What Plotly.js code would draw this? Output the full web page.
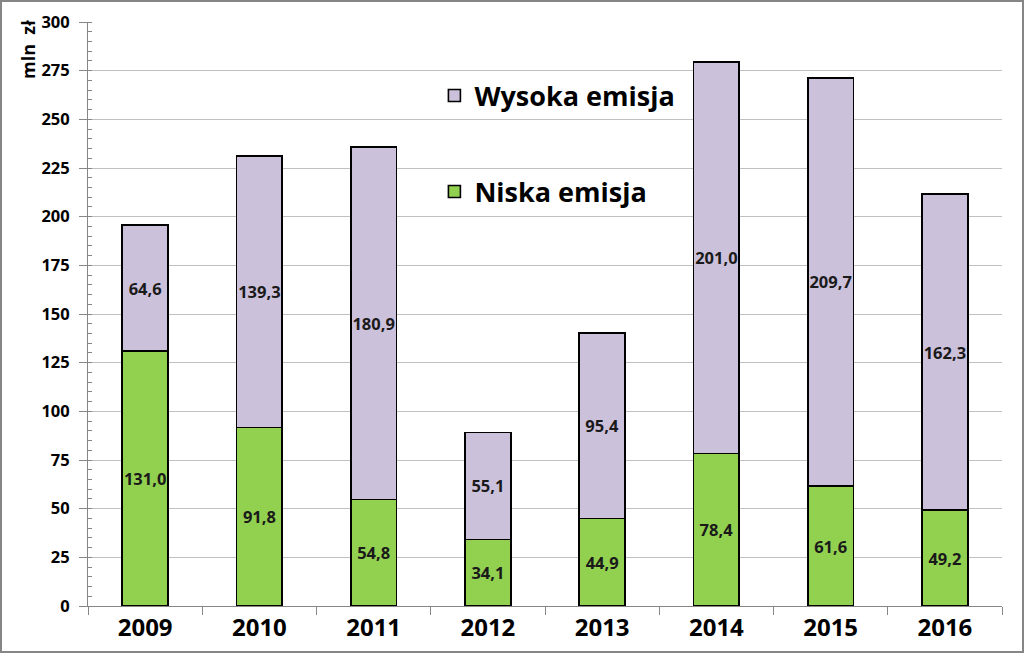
<!DOCTYPE html>
<html><head><meta charset="utf-8">
<script src="https://cdn.plot.ly/plotly-3.0.1.min.js"></script>
<style>html,body{margin:0;padding:0;background:#fff}#chart{width:1024px;height:653px}</style>
</head><body><div id="chart"></div>
<script>
const years = ['2009','2010','2011','2012','2013','2014','2015','2016'];
const niska = [131.0, 91.8, 54.8, 34.1, 44.9, 78.4, 61.6, 49.2];
const wysoka = [64.6, 139.3, 180.9, 55.1, 95.4, 201.0, 209.7, 162.3];
const fmt = v => v.toFixed(1).replace('.', ',');

const M = {l: 88, r: 22, t: 22, b: 47};
const W = 1024, H = 653;
const pw = W - M.l - M.r, ph = H - M.t - M.b;
const FONT = 'Open Sans, Lato, sans-serif';

const common = {
  type: 'bar', x: years, width: 0.4,
  textposition: 'inside', insidetextanchor: 'middle', textangle: 0,
  constraintext: 'none',
  textfont: {family: FONT, size: 16.5, color: '#1a1a1a', weight: 700},
  hoverinfo: 'skip'
};

const data = [
  Object.assign({}, common, {name: 'Niska emisja', y: niska, text: niska.map(fmt),
    legend: 'legend2', marker: {color: '#92d050', line: {color: '#000', width: 1.6}}}),
  Object.assign({}, common, {name: 'Wysoka emisja', y: wysoka, text: wysoka.map(fmt),
    legend: 'legend', marker: {color: '#ccc1da', line: {color: '#000', width: 1.6}}})
];

const legFont = {family: FONT, size: 27, color: '#000', weight: 700};
const lx = 0.379;

const layout = {
  width: W, height: H, margin: M, barmode: 'stack',
  paper_bgcolor: '#fff', plot_bgcolor: '#fff',
  font: {family: FONT, color: '#000'},
  showlegend: true,
  legend: {x: lx, y: (606 - 96) / ph, xanchor: 'left', yanchor: 'middle',
    bgcolor: 'rgba(0,0,0,0)', font: legFont},
  legend2: {x: lx, y: (606 - 192) / ph, xanchor: 'left', yanchor: 'middle',
    bgcolor: 'rgba(0,0,0,0)', font: legFont},
  xaxis: {type: 'category', showline: true, linecolor: '#868686', linewidth: 1,
    ticks: 'outside', tickson: 'boundaries', ticklen: 8, tickcolor: '#868686',
    tickfont: {family: FONT, size: 24, color: '#000', weight: 700},
    showgrid: false, range: [-0.5, 7.5]},
  yaxis: {range: [0, 300], dtick: 25, showline: true, linecolor: '#868686', linewidth: 1,
    ticks: 'outside', ticklen: 8, tickcolor: '#868686', ticklabelstandoff: 6,
    gridcolor: '#c0c0c0', gridwidth: 1, zeroline: false,
    tickfont: {family: FONT, size: 16.5, color: '#000', weight: 700},
    minor: {dtick: 5, ticks: 'inside', ticklen: 4, tickcolor: '#868686', showgrid: false}},
  annotations: [{text: 'mln  zł', xref: 'paper', yref: 'paper',
    x: -60 / pw, y: 1 - (50 - M.t) / ph, textangle: -90, showarrow: false,
    xanchor: 'center', yanchor: 'middle',
    font: {family: FONT, size: 18, color: '#000', weight: 700}}],
  shapes: [{type: 'rect', xref: 'paper', yref: 'paper',
    x0: -(M.l - 1) / pw, x1: 1 + (M.r - 1) / pw, y0: -(M.b - 1) / ph, y1: 1 + (M.t - 1) / ph,
    line: {color: '#868686', width: 2}, layer: 'above'}]
};

Plotly.newPlot('chart', data, layout, {displayModeBar: false, staticPlot: true});
</script></body></html>
